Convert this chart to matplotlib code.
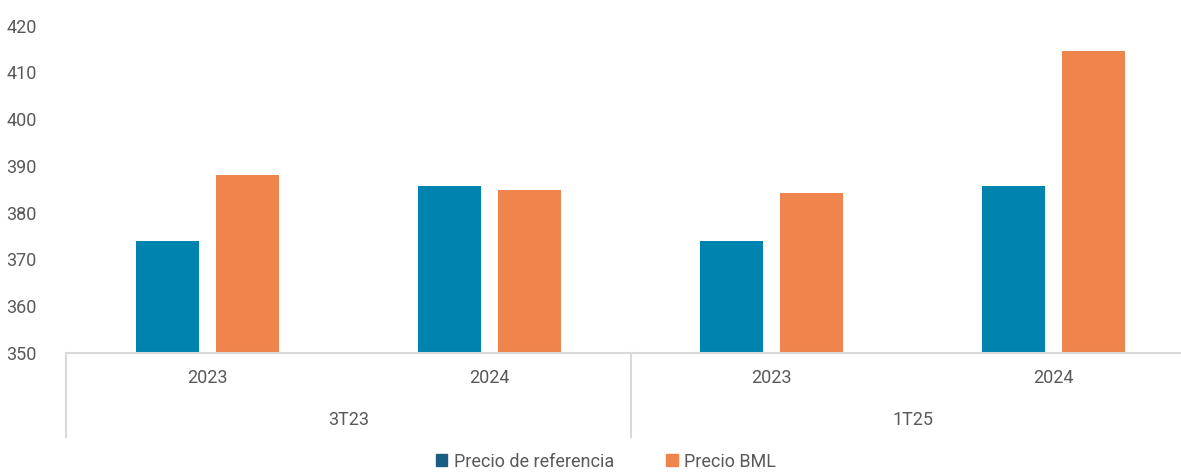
import matplotlib.pyplot as plt
import numpy as np
from matplotlib.lines import Line2D
from matplotlib.patches import Patch

# data
years = ["2023", "2024", "2023", "2024"]
periods = ["3T23", "1T25"]
precio_ref = [373.9, 385.7, 373.9, 385.7]
precio_bml = [388.0, 384.8, 384.3, 414.6]

blue = "#0083AE"
blue_legend = "#1B5E84"
orange = "#F0844D"
grey = "#595959"

plt.rcParams["font.family"] = ["Roboto", "DejaVu Sans"]

fig = plt.figure(figsize=(11.81, 4.73), dpi=100)
# the category axis runs a little past the right edge of the picture
ax = fig.add_axes([66 / 1181, 1 - 353 / 473, (1195 - 66) / 1181, (353 - 25.5) / 473])

x = np.arange(len(years))
w = 0.223
off = 0.142
ax.bar(x - off, np.array(precio_ref) - 350, w, bottom=350, color=blue)
ax.bar(x + off, np.array(precio_bml) - 350, w, bottom=350, color=orange)

ax.set_ylim(350, 420)
ax.set_xlim(-0.5, 3.5)
ax.set_yticks(range(350, 421, 10))
ax.tick_params(axis="y", length=0, pad=21, labelsize=13, labelcolor=grey)
ax.set_xticks([])
for s in ["top", "right", "left"]:
    ax.spines[s].set_visible(False)
ax.spines["bottom"].set_color("#D9D9D9")
ax.spines["bottom"].set_linewidth(1.5)

# multi-level category axis
trans = ax.get_xaxis_transform()
for i, yr in enumerate(years):
    ax.text(i, -0.076, yr, transform=trans, ha="center", va="center",
            fontsize=13, color=grey)
for j, p in enumerate(periods):
    ax.text(2 * j + 0.5, -0.205, p, transform=trans, ha="center", va="center",
            fontsize=13, color=grey)
for xv in [-0.5, 1.5, 3.5]:
    ax.add_line(Line2D([xv, xv], [0, -0.258], transform=trans, color="#D9D9D9",
                       lw=1.5, clip_on=False))

handles = [Patch(color=blue_legend), Patch(color=orange)]
fig.legend(handles, ["Precio de referencia", "Precio BML"], loc="center",
           bbox_to_anchor=(0.513, 0.024), ncol=2, frameon=False, fontsize=13,
           handlelength=0.65, handleheight=0.65, handletextpad=0.35,
           columnspacing=2.9, labelcolor=grey)

fig.savefig("out.png", dpi=100)
